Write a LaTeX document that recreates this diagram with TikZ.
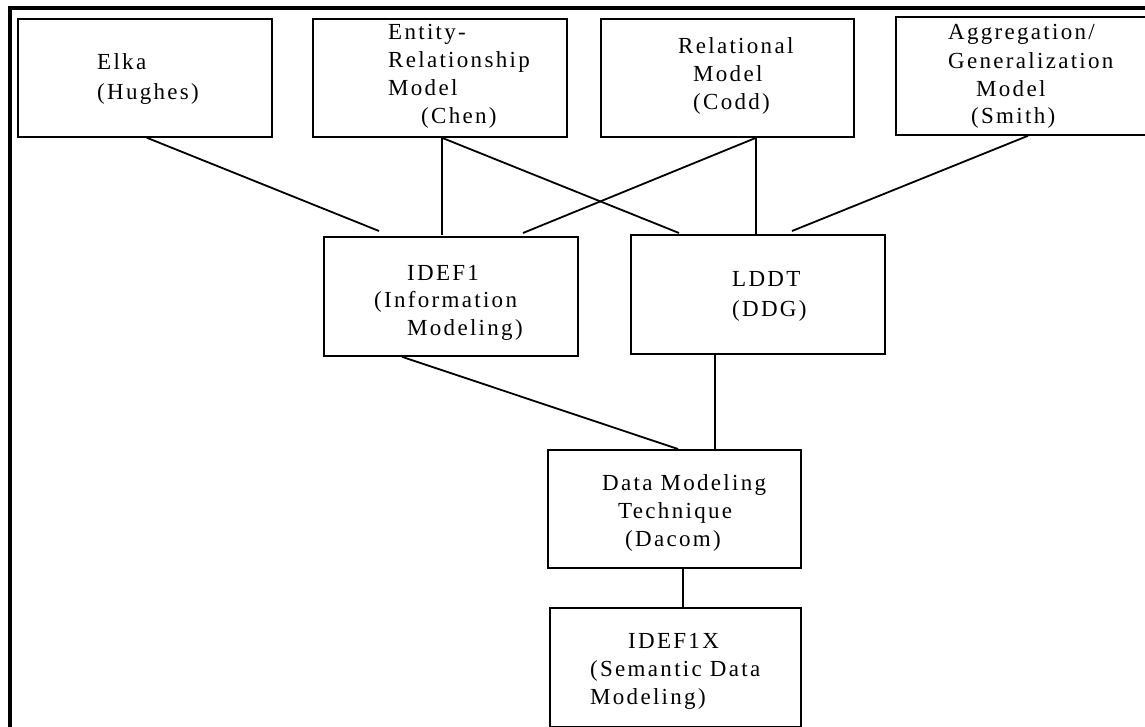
\documentclass[tikz,border=0pt]{standalone}
\usepackage{fontspec}
\setmainfont{Liberation Serif}[LetterSpace=10]
\begin{document}
\begin{tikzpicture}[x=1pt,y=-1pt,
  modelbox/.style={draw, line width=1.8pt, rectangle, anchor=north west, inner sep=0pt},
  txt/.style={anchor=base west, inner sep=0pt, font=\fontsize{23}{28}\selectfont},
  link/.style={line width=1.8pt}]
\useasboundingbox (0,0) rectangle (1145,727);
\clip (0,0) rectangle (1145,727);
\fill[white] (0,0) rectangle (1145,727);

% outer frame (left and top edges)
\draw[line width=4pt] (10,740) -- (10,8) -- (1160,8);

% model boxes
\node[modelbox, minimum width=254pt, minimum height=118pt] (elka)   at (17,18)   {};
\node[modelbox, minimum width=254pt, minimum height=118pt] (er)     at (312,18)  {};
\node[modelbox, minimum width=253pt, minimum height=118pt] (rel)    at (600,18)  {};
\node[modelbox, minimum width=254pt, minimum height=118pt] (agg)    at (895,16)  {};
\node[modelbox, minimum width=254pt, minimum height=119pt] (idef1)  at (323,236) {};
\node[modelbox, minimum width=254pt, minimum height=119pt] (lddt)   at (630,234) {};
\node[modelbox, minimum width=253pt, minimum height=118pt] (dacom)  at (547,449) {};
\node[modelbox, minimum width=251pt, minimum height=119pt] (idef1x) at (549,607) {};

% box texts
\node[txt] (elka-1) at (97,70)  {Elka};
\node[txt] (elka-2) at (97,100) {(Hughes)};

\node[txt] (er-1) at (388,40)  {Entity-};
\node[txt] (er-2) at (388,68)  {Relationship};
\node[txt] (er-3) at (388,96)  {Model};
\node[txt] (er-4) at (421,124) {(Chen)};

\node[txt] (rel-1) at (678,54)  {Relational};
\node[txt] (rel-2) at (693,82)  {Model};
\node[txt] (rel-3) at (693,110) {(Codd)};

\node[txt] (agg-1) at (948,40)  {Aggregation/};
\node[txt] (agg-2) at (948,69)  {Generalization};
\node[txt] (agg-3) at (976,97)  {Model};
\node[txt] (agg-4) at (971,124) {(Smith)};

\node[txt] (idef1-1) at (407,280) {IDEF1};
\node[txt] (idef1-2) at (374,307) {(Information};
\node[txt] (idef1-3) at (407,335) {Modeling)};

\node[txt] (lddt-1) at (732,287) {LDDT};
\node[txt] (lddt-2) at (732,316) {(DDG)};

\node[txt] (dacom-1) at (602,490) {Data Modeling};
\node[txt] (dacom-2) at (618,518) {Technique};
\node[txt] (dacom-3) at (625,546) {(Dacom)};

\node[txt] (idef1x-1) at (628,648) {IDEF1X};
\node[txt] (idef1x-2) at (590,676) {(Semantic Data};
\node[txt] (idef1x-3) at (590,704) {Modeling)};

% lineage connectors
\draw[link] ([xshift=130pt]elka.south west) -- ([xshift=56pt,yshift=5pt]idef1.north west);
\draw[link] ([xshift=130pt]er.south west)   -- ([xshift=119pt,yshift=1pt]idef1.north west);
\draw[link] ([xshift=130pt]er.south west)   -- ([xshift=49pt,yshift=1pt]lddt.north west);
\draw[link] ([xshift=156pt]rel.south west)  -- ([xshift=200pt,yshift=3pt]idef1.north west);
\draw[link] ([xshift=156pt]rel.south west)  -- ([xshift=126pt]lddt.north west);
\draw[link] ([xshift=133pt]agg.south west)  -- ([xshift=162pt,yshift=3pt]lddt.north west);
\draw[link] ([xshift=79pt]idef1.south west) -- ([xshift=131pt]dacom.north west);
\draw[link] ([xshift=85pt]lddt.south west)  -- ([xshift=168pt]dacom.north west);
\draw[link] ([xshift=136pt]dacom.south west) -- ([xshift=134pt]idef1x.north west);
\end{tikzpicture}
\end{document}
